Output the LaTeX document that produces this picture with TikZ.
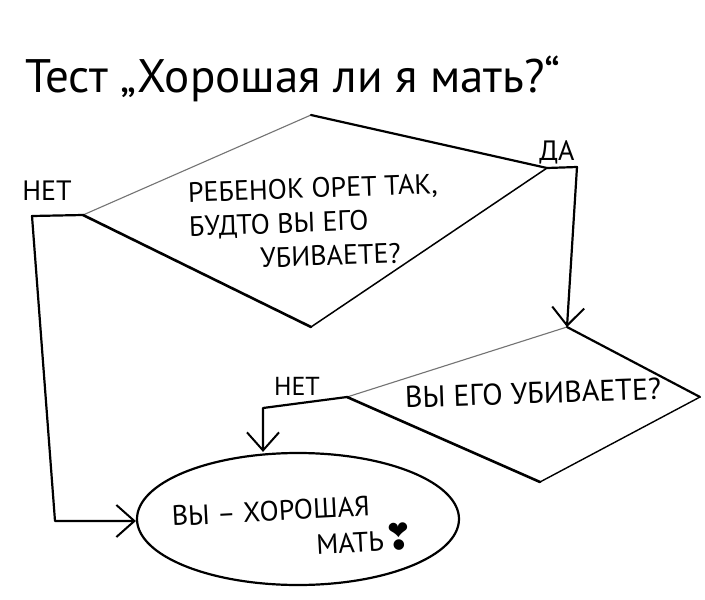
\documentclass[tikz,border=0pt]{standalone}
\usepackage{fontspec}
\setmainfont{PT Sans}
\newfontfamily\symfont{DejaVu Sans}
\usetikzlibrary{arrows.meta,shapes.geometric}
\begin{document}
\begin{tikzpicture}[x=1pt,y=-1pt,
  ink/.style={line width=2.2pt, line join=round, line cap=round},
  faint/.style={line width=1.1pt, black!55, line cap=round},
  arr/.style={ink,-{Straight Barb[length=18pt,width=32pt,line width=2pt]}},
  lbl/.style={font=\fontsize{28}{30}\selectfont, inner sep=0pt},
  qtext/.style={font=\fontsize{28}{34}\selectfont, inner sep=0pt, align=left},
]
\useasboundingbox (0,0) rectangle (705,600);
\fill[white] (0,0) rectangle (705,600);

% title
\node[font=\fontsize{47}{50}\selectfont, inner sep=0pt, anchor=base west] (title) at (25,92) {Тест „Хорошая ли я мать?“};

% diamond 1
\coordinate (d1t) at (311,115);
\coordinate (d1r) at (547,168);
\coordinate (d1b) at (311,327);
\coordinate (d1l) at (83,215);
\draw[faint] (d1l) -- (d1t);
\draw[ink] (d1t) -- (d1r);
\draw[ink, line width=1.5pt] (d1r) -- (d1b);
\draw[ink, line width=2.6pt] (d1b) -- (d1l);
\node[qtext, rotate=2] (q1) at (314,222) {РЕБЕНОК ОРЕТ ТАК,\\БУДТО ВЫ ЕГО\\\hspace*{2.5em}УБИВАЕТЕ?};

% diamond 2
\coordinate (d2t) at (567,327);
\coordinate (d2r) at (700,397);
\coordinate (d2b) at (540,482);
\coordinate (d2l) at (347,397);
\draw[faint] (d2l) -- (d2t);
\draw[ink] (d2t) -- (d2r);
\draw[ink, line width=1.4pt] (d2r) -- (d2b);
\draw[ink, line width=2.6pt] (d2b) -- (d2l);
\node[qtext, font=\fontsize{30}{32}\selectfont, rotate=2] (q2) at (533,393) {ВЫ ЕГО УБИВАЕТЕ?};

% result
\node[ellipse, draw, line width=2.2pt, minimum width=322pt, minimum height=132pt, inner sep=0pt] (e) at (298,519) {};
\node[qtext, font=\fontsize{28}{36}\selectfont, rotate=3] (etext) at (293,528) {ВЫ – ХОРОШАЯ\\\hspace*{5.1em}МАТЬ{\symfont\fontsize{36}{36}\selectfont ❣}};

% connectors
\coordinate (n1a) at (32,216);
\coordinate (n1b) at (55,521);
\draw[arr] (d1l) -- (n1a) -- (n1b) -- (n1b -| e.west);
\coordinate (da) at (577,167);
\draw[arr] (d1r) -- (da) -- (d2t);
\coordinate (n2a) at (263,408);
\draw[arr] (d2l) -- (n2a) -- (n2a |- e.north);

% labels
\node[lbl] (no1) at (47,191) {НЕТ};
\node[lbl] (yes) at (557,152) {ДА};
\node[lbl, font=\fontsize{26}{28}\selectfont] (no2) at (297,386) {НЕТ};
\end{tikzpicture}
\end{document}
